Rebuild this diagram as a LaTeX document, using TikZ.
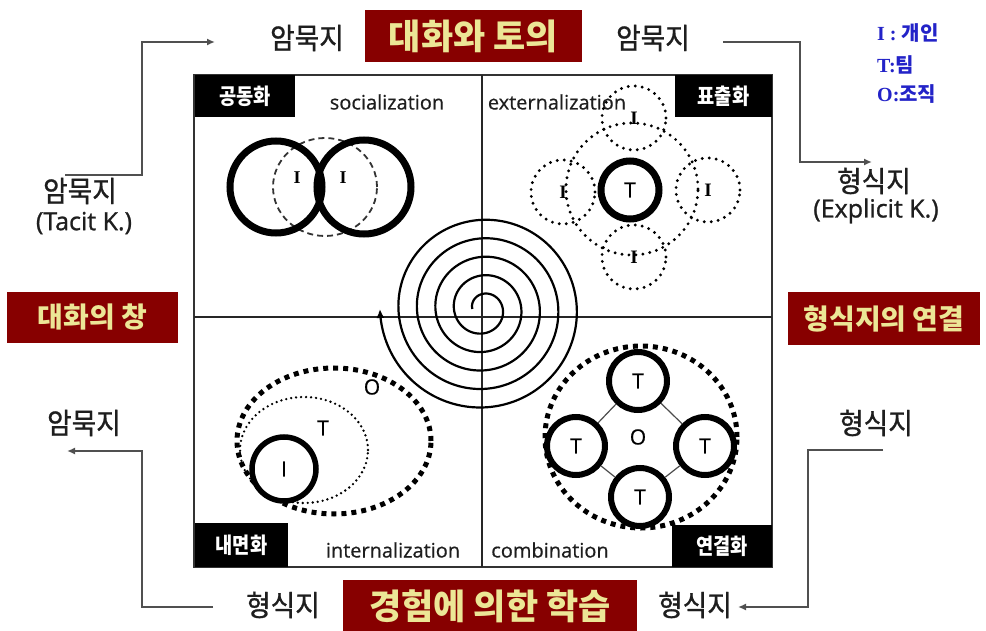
\documentclass[tikz,border=0pt]{standalone}
\usepackage{fontspec}
\setmainfont{Open Sans}
\newfontfamily\kr{Noto Sans CJK KR}
\newfontfamily\krm{Noto Sans CJK KR}[FakeBold=0.9, FakeStretch=0.92]
\newfontfamily\krc{Noto Sans CJK KR}[FakeStretch=0.85]
\newfontfamily\osb{Open Sans}[FakeBold=1]
\newfontfamily\osm{Open Sans}[FakeBold=0.5]
\newfontfamily\lser{Liberation Serif}
\usetikzlibrary{arrows.meta}
\definecolor{boxred}{RGB}{135,0,0}
\definecolor{gold}{RGB}{236,230,150}
\definecolor{legblue}{RGB}{35,35,200}
\definecolor{ink}{RGB}{30,30,30}
\definecolor{linegray}{RGB}{80,80,80}
\begin{document}
\begin{tikzpicture}[x=1pt,y=-1pt,
  kw/.style={font=\krm\fontsize{29}{32}\selectfont, text=ink, inner sep=0pt},
  redbox/.style={fill=boxred, text=gold, font=\kr\bfseries\fontsize{35}{38}\selectfont, inner sep=0pt},
  redsmall/.style={font=\kr\bfseries\fontsize{28}{32}\selectfont},
  blkbox/.style={fill=black, text=white, font=\krc\bfseries\fontsize{22}{24}\selectfont, inner sep=0pt},
  eng/.style={font=\osm\fontsize{20}{24}\selectfont, text=ink, inner sep=0pt},
  engbig/.style={font=\osb\fontsize{25}{30}\selectfont, text=ink, inner sep=0pt},
  leg/.style={font=\fontsize{20}{24}\selectfont, text=legblue, anchor=west, inner sep=0pt},
  flow/.style={draw=linegray, line width=1.8pt, -{Latex[length=8pt,width=7pt]}},
  thickc/.style={draw=black, circle, line width=7pt, inner sep=0pt, font=\osm\fontsize{21}{22}\selectfont},
  dotc/.style={draw=black, circle, line width=3.2pt, dash pattern=on 0pt off 7pt, line cap=round, inner sep=0pt, minimum size=64pt, font=\lser\bfseries\fontsize{19}{20}\selectfont},
  dotline/.style={draw=black, line width=3.2pt, dash pattern=on 0pt off 7pt, line cap=round},
  bigdots/.style={draw=black, line width=5pt, dash pattern=on 5pt off 5pt},
  finedots/.style={draw=black, line width=2.6pt, dash pattern=on 0pt off 5pt, line cap=round},
  serifl/.style={font=\lser\bfseries\fontsize{18}{20}\selectfont, inner sep=0pt},
  sansl/.style={font=\osm\fontsize{21}{22}\selectfont, inner sep=0pt}
]
\useasboundingbox (0,0) rectangle (986,631);
\fill[white] (0,0) rectangle (986,631);

% frame and axes
\draw[line width=2pt, draw=black!80] (194,75) rectangle (772,567);
\draw[line width=1.6pt, draw=black!85] (482,75) -- (482,567);
\draw[line width=1.6pt, draw=black!85] (194,317) -- (772,317);

% quadrant labels
\node[blkbox, minimum width=100pt, minimum height=42pt] (lsoc) at (245,96) {공동화};
\node[blkbox, minimum width=97pt, minimum height=42pt] (lext) at (723.5,96) {표출화};
\node[blkbox, minimum width=93pt, minimum height=44pt] (lint) at (241.5,545) {내면화};
\node[blkbox, minimum width=100pt, minimum height=42pt] (lcom) at (722,546) {연결화};
\node[eng] (esoc) at (387,102) {socialization};
\node[eng] (eext) at (557,102) {externalization};
\node[eng] (eint) at (393,550) {internalization};
\node[eng] (ecom) at (550,550) {combination};

% Q1 socialization
\draw[black!80, line width=1.8pt, dash pattern=on 6pt off 4pt] (325,187) ellipse [x radius=52pt, y radius=49pt];
\node[thickc, minimum size=92pt] (s1) at (276,187) {};
\node[thickc, minimum size=94pt] (s2) at (364,187) {};
\node[serifl] (si1) at (297,178) {I};
\node[serifl] (si2) at (343,178) {I};

% Q2 externalization
\draw[dotline] (632,189) circle[radius=66pt];
\node[dotc] (ea) at (634,118) {I};
\node[dotc] (eb) at (563,192) {I};
\node[dotc] (ec) at (708,190) {I};
\node[dotc] (ed) at (634,257) {I};
\node[thickc, minimum size=58pt] (et) at (630,190) {T};

% Q3 internalization
\draw[bigdots] (334,441) ellipse [x radius=97pt, y radius=73pt];
\draw[finedots] (304,450) ellipse [x radius=64pt, y radius=53pt];
\node[thickc, line width=5.5pt, minimum size=64pt, fill=white] (ii) at (284,469) {I};
\node[sansl] (it) at (323,428) {T};
\node[sansl] (io) at (372,387) {O};

% Q4 combination
\draw[bigdots] (641,437) ellipse [x radius=96pt, y radius=91pt];
\node[thickc, line width=6pt, minimum size=58pt, fill=white] (ct) at (638,381) {T};
\node[thickc, line width=6pt, minimum size=58pt, fill=white] (cl) at (576,446) {T};
\node[thickc, line width=6pt, minimum size=58pt, fill=white] (cr) at (705,446) {T};
\node[thickc, line width=6pt, minimum size=58pt, fill=white] (cb) at (640,497) {T};
\draw[black!70, line width=1.2pt] (ct) -- (cl);
\draw[black!70, line width=1.2pt] (ct) -- (cr);
\draw[black!70, line width=1.2pt] (cl) -- (cb);
\draw[black!70, line width=1.2pt] (cr) -- (cb);
\node[sansl] (co) at (638,437) {O};

% spiral
\draw[line width=2.2pt, -{Latex[length=9pt,width=8pt]}] plot[domain=-180:1620, samples=600, smooth, variable=\t]
  ({483+(15.2+18.5*((\t+90)/360))*cos(\t)}, {309+(15.2+18.5*((\t+90)/360))*sin(\t)});

% red boxes
\node[redbox, minimum width=217pt, minimum height=52pt] (rtop) at (473.5,36) {대화와 토의};
\node[redbox, redsmall, minimum width=171pt, minimum height=51pt] (rleft) at (92.5,317.5) {대화의 창};
\node[redbox, redsmall, minimum width=192pt, minimum height=53pt] (rright) at (884,318.5) {형식지의 연결};
\node[redbox, minimum width=294pt, minimum height=52pt] (rbot) at (490,606) {경험에 의한 학습};

% knowledge labels
\node[kw] (ktl) at (307,38) {암묵지};
\node[kw] (ktr) at (653,38) {암묵지};
\node[kw] (kl1) at (80,191) {암묵지};
\node[engbig] (kl2) at (84,223) {(Tacit K.)};
\node[kw] (kr1) at (874,181) {형식지};
\node[engbig] (kr2) at (876,211) {(Explicit K.)};
\node[kw] (kbl) at (84,423) {암묵지};
\node[kw] (kbr) at (876,423) {형식지};
\node[kw] (kb1) at (283,605) {형식지};
\node[kw] (kb2) at (695,605) {형식지};

% legend
\node[leg] (lg1) at (877,33) {{\lser\bfseries I :} {\kr\bfseries 개인}};
\node[leg] (lg2) at (877,65) {{\lser\bfseries T:}{\kr\bfseries 팀}};
\node[leg] (lg3) at (877,94) {{\lser\bfseries O:}{\kr\bfseries 조직}};

% flow arrows
\coordinate (a1) at (65,175); \coordinate (a2) at (142,175); \coordinate (a3) at (142,42); \coordinate (a4) at (215,42);
\draw[flow] (a1) -- (a2) -- (a3) -- (a4);
\coordinate (b1) at (723,42); \coordinate (b2) at (800,42); \coordinate (b3) at (800,162); \coordinate (b4) at (872,162);
\draw[flow] (b1) -- (b2) -- (b3) -- (b4);
\coordinate (c1) at (213,607); \coordinate (c2) at (142,607); \coordinate (c3) at (142,451); \coordinate (c4) at (67,451);
\draw[flow] (c1) -- (c2) -- (c3) -- (c4);
\coordinate (d1) at (883,450); \coordinate (d2) at (808,450); \coordinate (d3) at (808,607); \coordinate (d4) at (738,607);
\draw[flow] (d1) -- (d2) -- (d3) -- (d4);
\end{tikzpicture}
\end{document}
